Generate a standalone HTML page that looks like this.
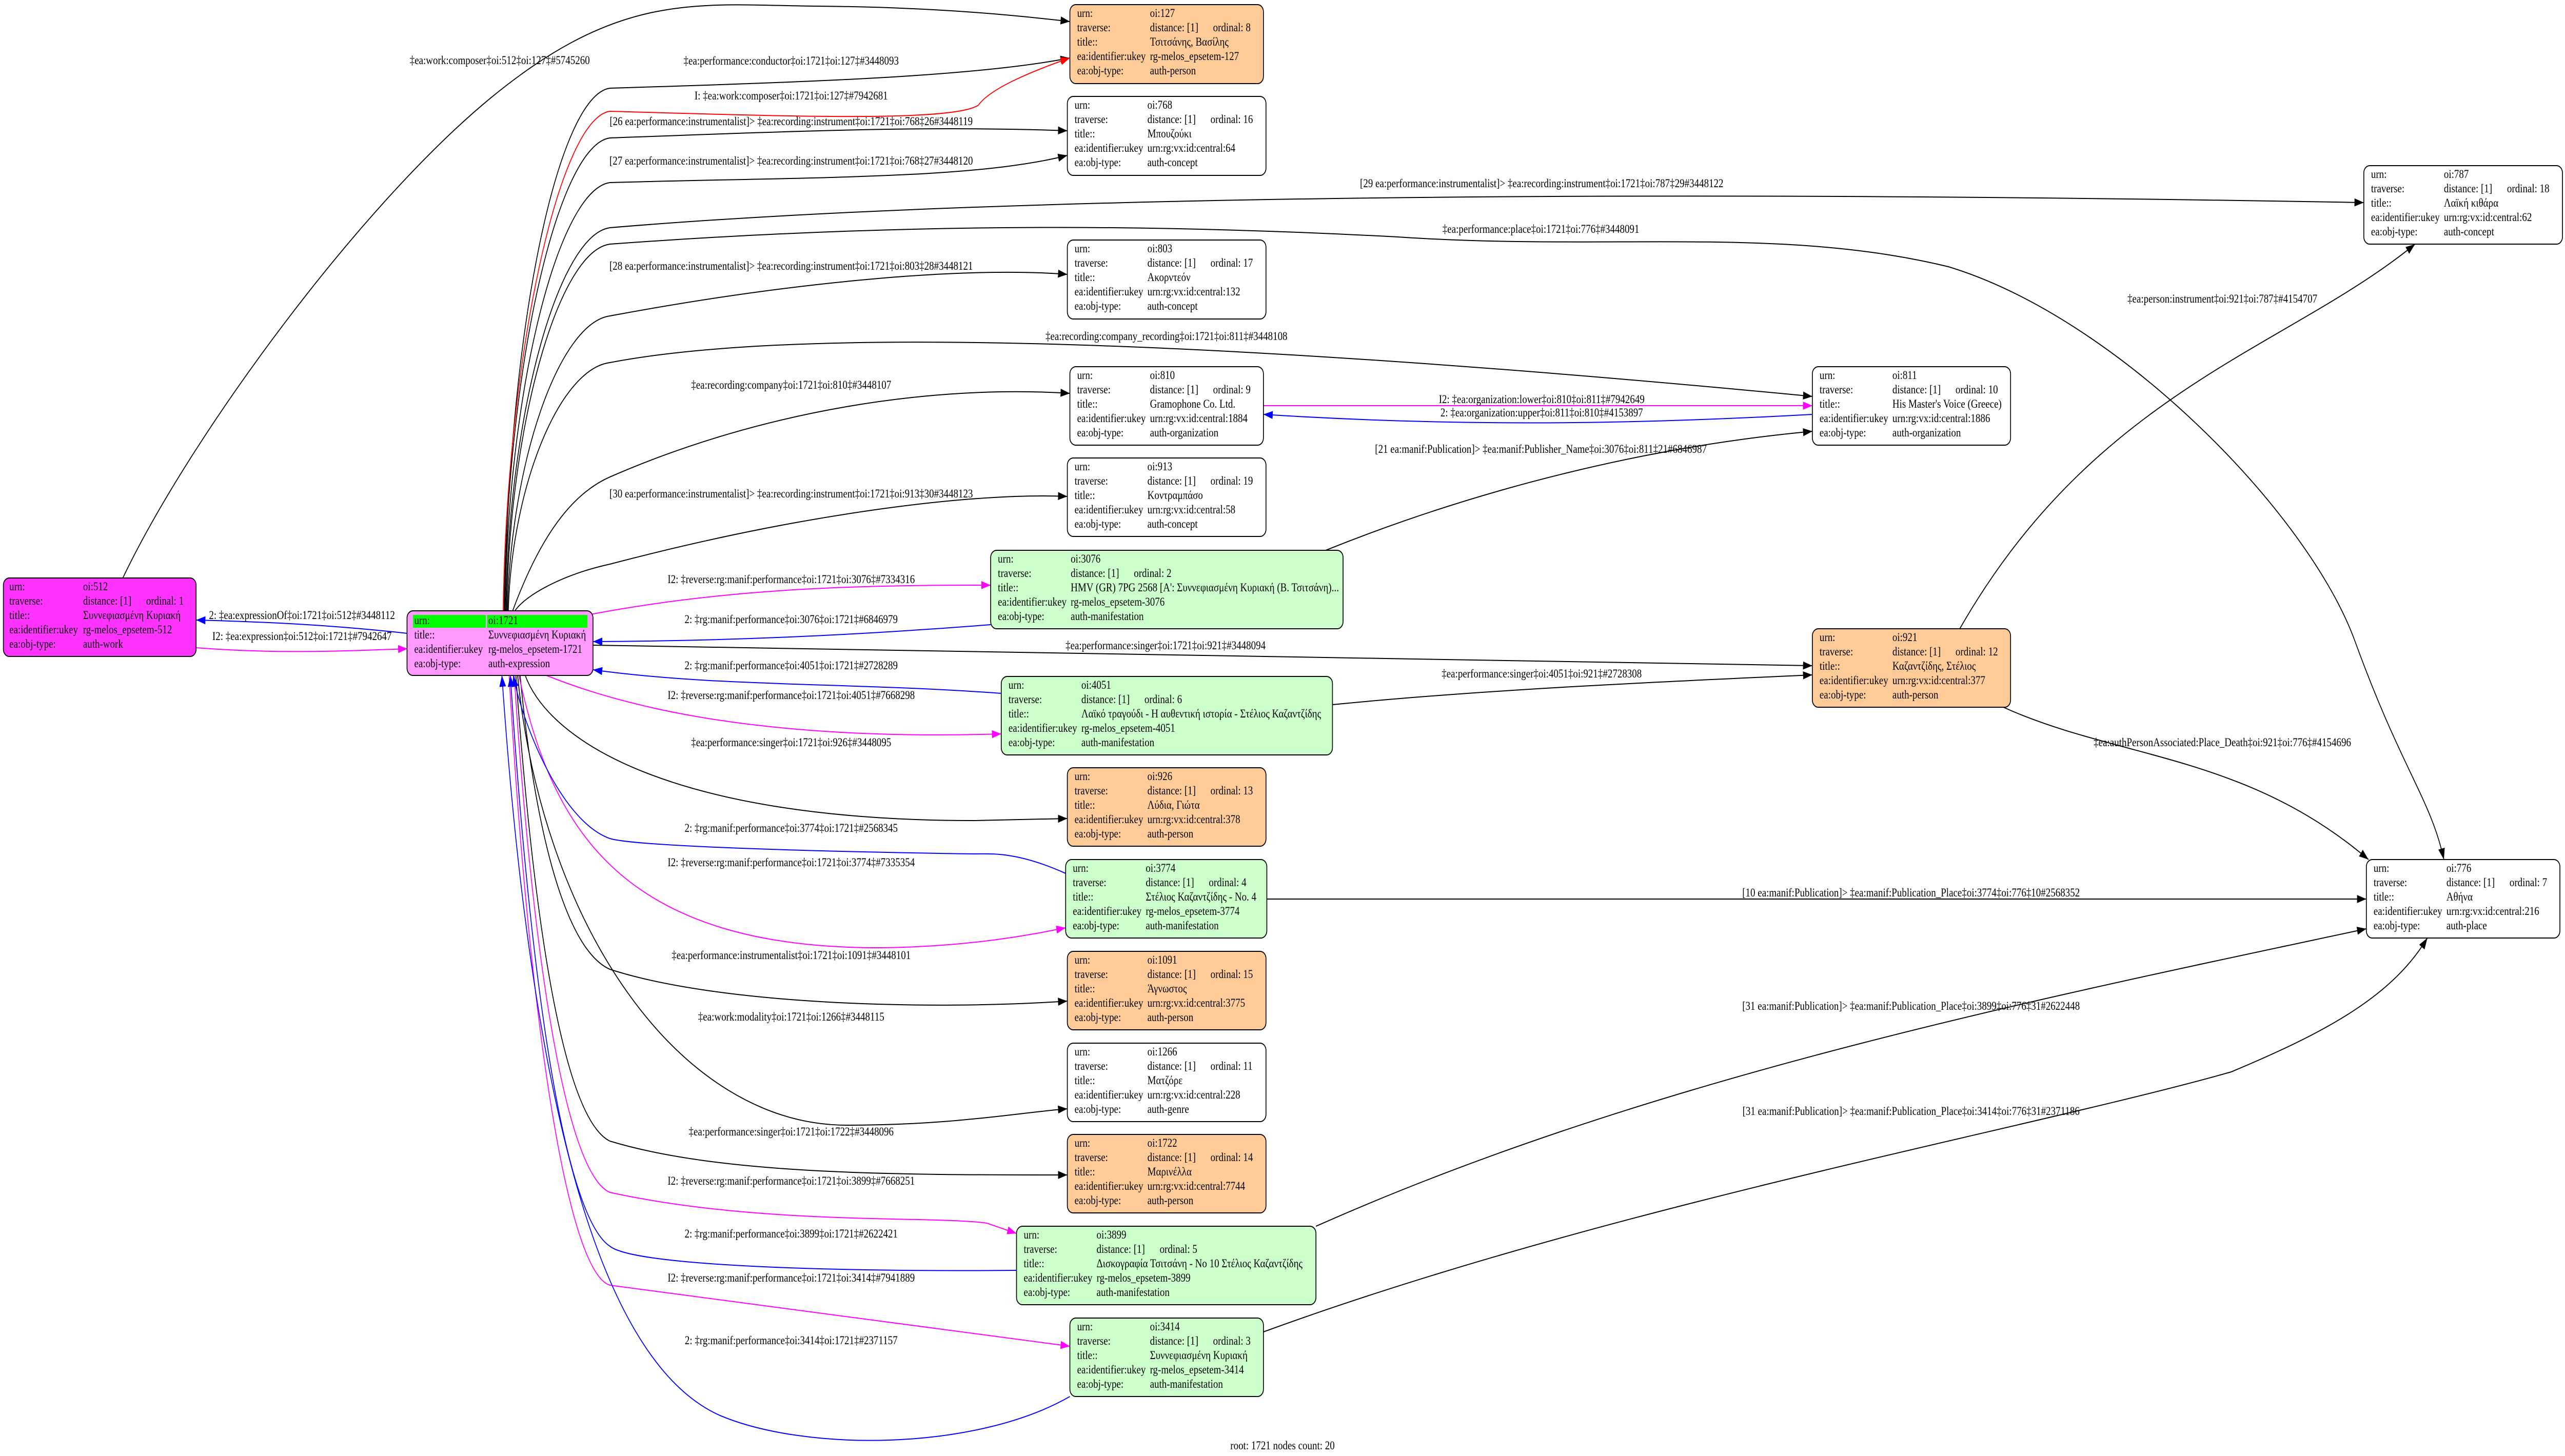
<!DOCTYPE html>
<html><head><meta charset="utf-8"><style>
html,body{margin:0;padding:0;background:#fff;width:100%;height:100%;overflow:hidden;}
svg{display:block;width:100vw;height:100vh;}
text{font-family:"Liberation Serif","Noto Serif CJK SC",serif;font-size:23px;fill:#000;}
.l{text-anchor:middle;}
</style></head><body>
<svg viewBox="0 0 6056 2839" preserveAspectRatio="none" xmlns="http://www.w3.org/2000/svg">
<defs>
<marker id="ak" viewBox="0 0 14 10" refX="14" refY="5" markerWidth="22" markerHeight="16" markerUnits="userSpaceOnUse" orient="auto"><path d="M0,0L14,5L0,10z" fill="#000"/></marker>
<marker id="ar" viewBox="0 0 14 10" refX="14" refY="5" markerWidth="22" markerHeight="16" markerUnits="userSpaceOnUse" orient="auto"><path d="M0,0L14,5L0,10z" fill="#f00"/></marker>
<marker id="ab" viewBox="0 0 14 10" refX="14" refY="5" markerWidth="22" markerHeight="16" markerUnits="userSpaceOnUse" orient="auto"><path d="M0,0L14,5L0,10z" fill="#00f"/></marker>
<marker id="am" viewBox="0 0 14 10" refX="14" refY="5" markerWidth="22" markerHeight="16" markerUnits="userSpaceOnUse" orient="auto"><path d="M0,0L14,5L0,10z" fill="#f0f"/></marker>
</defs>
<g fill="none" stroke-width="2">
<g stroke="#000" marker-end="url(#ak)">
<path d="M290,1127 C450,850 850,400 1160,190 S1650,10 1930,12 S2400,30 2526,42"/>
<path d="M1192,1192 C1200,630 1320,185 1440,172 C1900,160 2300,150 2526,113"/>
<path d="M1190,1192 C1198,700 1320,282 1440,269 C1900,255 2200,245 2520,255"/>
<path d="M1192,1192 C1200,750 1320,370 1440,356 C1900,345 2300,350 2520,303"/>
<path d="M1194,1192 C1202,800 1320,458 1440,444 C2000,405 3200,360 5581,395"/>
<path d="M1196,1192 C1204,820 1320,490 1440,476 C2200,430 2800,440 3300,462 C3800,490 4200,440 4600,520 C5000,620 5450,1000 5560,1250 S5740,1560 5770,1676"/>
<path d="M1198,1192 C1206,900 1320,630 1440,616 C1900,545 2300,520 2520,535"/>
<path d="M1200,1192 C1208,950 1320,720 1440,707 C1800,650 2600,640 4279,773"/>
<path d="M1210,1192 C1260,1080 1330,970 1440,930 C1800,800 2200,750 2526,767"/>
<path d="M1215,1192 C1240,1160 1330,1120 1440,1100 C1900,1000 2300,960 2520,968"/>
<path d="M1400,1258 C2500,1275 3500,1285 4279,1298"/>
<path d="M3130,1073 C3500,950 3900,870 4279,841"/>
<path d="M3146,1374 C3500,1345 3900,1330 4279,1316"/>
<path d="M4627,1226 C4950,760 5400,680 5702,476"/>
<path d="M4730,1379 C5000,1480 5300,1470 5592,1676"/>
<path d="M2991,1753 L5587,1753"/>
<path d="M3107,2391 C3900,2100 4800,1950 5587,1811"/>
<path d="M2983,2597 C3800,2350 4800,2200 5268,2090 C5500,2010 5650,1940 5731,1829"/>
<path d="M1240,1317 C1300,1450 1600,1600 2300,1600 L2520,1596"/>
<path d="M1228,1317 C1260,1600 1330,1850 1440,1890 C1700,1960 2200,1970 2520,1952"/>
<path d="M1222,1317 C1280,1800 1600,2194 2000,2194 C2250,2194 2400,2170 2520,2162"/>
<path d="M1218,1317 C1260,1800 1330,2180 1440,2225 C1700,2290 2100,2291 2520,2291"/>
</g>
<path stroke="#f00" marker-end="url(#ar)" d="M1188,1192 C1196,700 1320,230 1440,217 C1800,225 2250,240 2310,205 C2340,170 2450,135 2526,113"/>
<g stroke="#f0f" marker-end="url(#am)">
<path d="M463,1263 C650,1275 800,1270 962,1265"/>
<path d="M1394,1198 C1700,1150 2000,1140 2339,1141"/>
<path d="M1290,1317 C1600,1420 2000,1440 2364,1431"/>
<path d="M2983,791 L4279,791"/>
<path d="M1225,1317 C1300,1600 1450,1850 2080,1848 C2300,1846 2450,1820 2516,1809"/>
<path d="M1214,1317 C1260,1900 1340,2290 1440,2325 C1800,2390 2200,2370 2330,2385 L2400,2405"/>
<path d="M1202,1317 C1250,2000 1340,2480 1440,2506 L2526,2625"/>
</g>
<g stroke="#00f" marker-end="url(#ab)">
<path d="M962,1235 C800,1220 650,1213 463,1209"/>
<path d="M2339,1218 C2000,1240 1700,1250 1400,1251"/>
<path d="M2364,1352 C2000,1330 1700,1340 1400,1306"/>
<path d="M4279,808 C3800,830 3400,830 2983,808"/>
<path d="M2516,1703 C2400,1660 2340,1665 2300,1665 C1900,1660 1500,1650 1440,1635 C1320,1600 1230,1400 1212,1317"/>
<path d="M2400,2477 C2000,2480 1500,2470 1440,2430 C1330,2370 1250,1900 1205,1317"/>
<path d="M2526,2723 C2300,2830 1900,2830 1700,2760 C1400,2650 1250,2100 1185,1317"/>
</g>
</g>
<g>
<text class="l" x="1180" y="125">‡ea:work:composer‡oi:512‡oi:127‡#5745260</text>
<text class="l" x="1868" y="126">‡ea:performance:conductor‡oi:1721‡oi:127‡#3448093</text>
<text class="l" x="1868" y="194">I: ‡ea:work:composer‡oi:1721‡oi:127‡#7942681</text>
<text class="l" x="1868" y="244">[26 ea:performance:instrumentalist]&gt; ‡ea:recording:instrument‡oi:1721‡oi:768‡26#3448119</text>
<text class="l" x="1868" y="321">[27 ea:performance:instrumentalist]&gt; ‡ea:recording:instrument‡oi:1721‡oi:768‡27#3448120</text>
<text class="l" x="3640" y="365">[29 ea:performance:instrumentalist]&gt; ‡ea:recording:instrument‡oi:1721‡oi:787‡29#3448122</text>
<text class="l" x="3638" y="454">‡ea:performance:place‡oi:1721‡oi:776‡#3448091</text>
<text class="l" x="1868" y="526">[28 ea:performance:instrumentalist]&gt; ‡ea:recording:instrument‡oi:1721‡oi:803‡28#3448121</text>
<text class="l" x="2754" y="663">‡ea:recording:company_recording‡oi:1721‡oi:811‡#3448108</text>
<text class="l" x="1868" y="758">‡ea:recording:company‡oi:1721‡oi:810‡#3448107</text>
<text class="l" x="3640" y="786">I2: ‡ea:organization:lower‡oi:810‡oi:811‡#7942649</text>
<text class="l" x="3640" y="812">2: ‡ea:organization:upper‡oi:811‡oi:810‡#4153897</text>
<text class="l" x="3638" y="883">[21 ea:manif:Publication]&gt; ‡ea:manif:Publisher_Name‡oi:3076‡oi:811‡21#6846987</text>
<text class="l" x="1868" y="970">[30 ea:performance:instrumentalist]&gt; ‡ea:recording:instrument‡oi:1721‡oi:913‡30#3448123</text>
<text class="l" x="5247" y="590">‡ea:person:instrument‡oi:921‡oi:787‡#4154707</text>
<text class="l" x="1868" y="1137">I2: ‡reverse:rg:manif:performance‡oi:1721‡oi:3076‡#7334316</text>
<text class="l" x="713" y="1207">2: ‡ea:expressionOf‡oi:1721‡oi:512‡#3448112</text>
<text class="l" x="713" y="1248">I2: ‡ea:expression‡oi:512‡oi:1721‡#7942647</text>
<text class="l" x="1868" y="1215">2: ‡rg:manif:performance‡oi:3076‡oi:1721‡#6846979</text>
<text class="l" x="2752" y="1266">‡ea:performance:singer‡oi:1721‡oi:921‡#3448094</text>
<text class="l" x="1868" y="1305">2: ‡rg:manif:performance‡oi:4051‡oi:1721‡#2728289</text>
<text class="l" x="3640" y="1321">‡ea:performance:singer‡oi:4051‡oi:921‡#2728308</text>
<text class="l" x="1868" y="1363">I2: ‡reverse:rg:manif:performance‡oi:1721‡oi:4051‡#7668298</text>
<text class="l" x="1868" y="1455">‡ea:performance:singer‡oi:1721‡oi:926‡#3448095</text>
<text class="l" x="5247" y="1455">‡ea:authPersonAssociated:Place_Death‡oi:921‡oi:776‡#4154696</text>
<text class="l" x="1868" y="1622">2: ‡rg:manif:performance‡oi:3774‡oi:1721‡#2568345</text>
<text class="l" x="1868" y="1689">I2: ‡reverse:rg:manif:performance‡oi:1721‡oi:3774‡#7335354</text>
<text class="l" x="4512" y="1748">[10 ea:manif:Publication]&gt; ‡ea:manif:Publication_Place‡oi:3774‡oi:776‡10#2568352</text>
<text class="l" x="1868" y="1870">‡ea:performance:instrumentalist‡oi:1721‡oi:1091‡#3448101</text>
<text class="l" x="4512" y="1969">[31 ea:manif:Publication]&gt; ‡ea:manif:Publication_Place‡oi:3899‡oi:776‡31#2622448</text>
<text class="l" x="1868" y="1990">‡ea:work:modality‡oi:1721‡oi:1266‡#3448115</text>
<text class="l" x="4512" y="2174">[31 ea:manif:Publication]&gt; ‡ea:manif:Publication_Place‡oi:3414‡oi:776‡31#2371186</text>
<text class="l" x="1868" y="2214">‡ea:performance:singer‡oi:1721‡oi:1722‡#3448096</text>
<text class="l" x="1868" y="2310">I2: ‡reverse:rg:manif:performance‡oi:1721‡oi:3899‡#7668251</text>
<text class="l" x="1868" y="2413">2: ‡rg:manif:performance‡oi:3899‡oi:1721‡#2622421</text>
<text class="l" x="1868" y="2499">I2: ‡reverse:rg:manif:performance‡oi:1721‡oi:3414‡#7941889</text>
<text class="l" x="1868" y="2621">2: ‡rg:manif:performance‡oi:3414‡oi:1721‡#2371157</text>
<text class="l" x="3028" y="2826">root: 1721 nodes count: 20</text>
</g>

<g stroke="#000" stroke-width="2">
<rect x="2526" y="9" width="457" height="154" rx="14" fill="#ffcc99"/>
<rect x="2520" y="188" width="469" height="154" rx="14" fill="#fff"/>
<rect x="2520" y="468" width="469" height="154" rx="14" fill="#fff"/>
<rect x="2526" y="715" width="457" height="153" rx="14" fill="#fff"/>
<rect x="2520" y="893" width="469" height="153" rx="14" fill="#fff"/>
<rect x="2339" y="1073" width="832" height="153" rx="14" fill="#ccffcc"/>
<rect x="2364" y="1319" width="782" height="153" rx="14" fill="#ccffcc"/>
<rect x="2520" y="1497" width="469" height="153" rx="14" fill="#ffcc99"/>
<rect x="2516" y="1676" width="475" height="153" rx="14" fill="#ccffcc"/>
<rect x="2520" y="1855" width="469" height="153" rx="14" fill="#ffcc99"/>
<rect x="2520" y="2034" width="469" height="153" rx="14" fill="#fff"/>
<rect x="2520" y="2212" width="469" height="153" rx="14" fill="#ffcc99"/>
<rect x="2400" y="2391" width="707" height="153" rx="14" fill="#ccffcc"/>
<rect x="2526" y="2570" width="457" height="153" rx="14" fill="#ccffcc"/>
<rect x="8" y="1127" width="455" height="153" rx="14" fill="#ff33ff"/>
<rect x="961" y="1191" width="439" height="126" rx="14" fill="#ff99ff"/>
<rect x="4279" y="715" width="468" height="153" rx="14" fill="#fff"/>
<rect x="4279" y="1226" width="468" height="153" rx="14" fill="#ffcc99"/>
<rect x="5581" y="323" width="469" height="153" rx="14" fill="#fff"/>
<rect x="5587" y="1676" width="457" height="153" rx="14" fill="#fff"/>
</g>
<rect x="975" y="1199" width="172" height="25" fill="#00ff00"/>
<rect x="1150" y="1199" width="237" height="25" fill="#00ff00"/>

<g>
<text x="2543" y="33">urn:</text><text x="2715" y="33">oi:127</text>
<text x="2543" y="61">traverse:</text><text x="2715" y="61">distance: [1]<tspan x="2864">ordinal: 8</tspan></text>
<text x="2543" y="89">title::</text><text x="2715" y="89">Τσιτσάνης, Βασίλης</text>
<text x="2543" y="117">ea:identifier:ukey</text><text x="2715" y="117">rg-melos_epsetem-127</text>
<text x="2543" y="145">ea:obj-type:</text><text x="2715" y="145">auth-person</text>

<text x="2537" y="212">urn:</text><text x="2709" y="212">oi:768</text>
<text x="2537" y="240">traverse:</text><text x="2709" y="240">distance: [1]<tspan x="2858">ordinal: 16</tspan></text>
<text x="2537" y="268">title::</text><text x="2709" y="268">Μπουζούκι</text>
<text x="2537" y="296">ea:identifier:ukey</text><text x="2709" y="296">urn:rg:vx:id:central:64</text>
<text x="2537" y="324">ea:obj-type:</text><text x="2709" y="324">auth-concept</text>

<text x="2537" y="492">urn:</text><text x="2709" y="492">oi:803</text>
<text x="2537" y="520">traverse:</text><text x="2709" y="520">distance: [1]<tspan x="2858">ordinal: 17</tspan></text>
<text x="2537" y="548">title::</text><text x="2709" y="548">Ακορντεόν</text>
<text x="2537" y="576">ea:identifier:ukey</text><text x="2709" y="576">urn:rg:vx:id:central:132</text>
<text x="2537" y="604">ea:obj-type:</text><text x="2709" y="604">auth-concept</text>

<text x="2543" y="739">urn:</text><text x="2715" y="739">oi:810</text>
<text x="2543" y="767">traverse:</text><text x="2715" y="767">distance: [1]<tspan x="2864">ordinal: 9</tspan></text>
<text x="2543" y="795">title::</text><text x="2715" y="795">Gramophone Co. Ltd.</text>
<text x="2543" y="823">ea:identifier:ukey</text><text x="2715" y="823">urn:rg:vx:id:central:1884</text>
<text x="2543" y="851">ea:obj-type:</text><text x="2715" y="851">auth-organization</text>

<text x="2537" y="917">urn:</text><text x="2709" y="917">oi:913</text>
<text x="2537" y="945">traverse:</text><text x="2709" y="945">distance: [1]<tspan x="2858">ordinal: 19</tspan></text>
<text x="2537" y="973">title::</text><text x="2709" y="973">Κοντραμπάσο</text>
<text x="2537" y="1001">ea:identifier:ukey</text><text x="2709" y="1001">urn:rg:vx:id:central:58</text>
<text x="2537" y="1029">ea:obj-type:</text><text x="2709" y="1029">auth-concept</text>

<text x="2356" y="1097">urn:</text><text x="2528" y="1097">oi:3076</text>
<text x="2356" y="1125">traverse:</text><text x="2528" y="1125">distance: [1]<tspan x="2677">ordinal: 2</tspan></text>
<text x="2356" y="1153">title::</text><text x="2528" y="1153">HMV (GR) 7PG 2568 [A': Συννεφιασμένη Κυριακή (Β. Τσιτσάνη)...</text>
<text x="2356" y="1181">ea:identifier:ukey</text><text x="2528" y="1181">rg-melos_epsetem-3076</text>
<text x="2356" y="1209">ea:obj-type:</text><text x="2528" y="1209">auth-manifestation</text>

<text x="2381" y="1343">urn:</text><text x="2553" y="1343">oi:4051</text>
<text x="2381" y="1371">traverse:</text><text x="2553" y="1371">distance: [1]<tspan x="2702">ordinal: 6</tspan></text>
<text x="2381" y="1399">title::</text><text x="2553" y="1399">Λαϊκό τραγούδι - Η αυθεντική ιστορία - Στέλιος Καζαντζίδης</text>
<text x="2381" y="1427">ea:identifier:ukey</text><text x="2553" y="1427">rg-melos_epsetem-4051</text>
<text x="2381" y="1455">ea:obj-type:</text><text x="2553" y="1455">auth-manifestation</text>

<text x="2537" y="1521">urn:</text><text x="2709" y="1521">oi:926</text>
<text x="2537" y="1549">traverse:</text><text x="2709" y="1549">distance: [1]<tspan x="2858">ordinal: 13</tspan></text>
<text x="2537" y="1577">title::</text><text x="2709" y="1577">Λύδια, Γιώτα</text>
<text x="2537" y="1605">ea:identifier:ukey</text><text x="2709" y="1605">urn:rg:vx:id:central:378</text>
<text x="2537" y="1633">ea:obj-type:</text><text x="2709" y="1633">auth-person</text>

<text x="2533" y="1700">urn:</text><text x="2705" y="1700">oi:3774</text>
<text x="2533" y="1728">traverse:</text><text x="2705" y="1728">distance: [1]<tspan x="2854">ordinal: 4</tspan></text>
<text x="2533" y="1756">title::</text><text x="2705" y="1756">Στέλιος Καζαντζίδης - No. 4</text>
<text x="2533" y="1784">ea:identifier:ukey</text><text x="2705" y="1784">rg-melos_epsetem-3774</text>
<text x="2533" y="1812">ea:obj-type:</text><text x="2705" y="1812">auth-manifestation</text>

<text x="2537" y="1879">urn:</text><text x="2709" y="1879">oi:1091</text>
<text x="2537" y="1907">traverse:</text><text x="2709" y="1907">distance: [1]<tspan x="2858">ordinal: 15</tspan></text>
<text x="2537" y="1935">title::</text><text x="2709" y="1935">Άγνωστος</text>
<text x="2537" y="1963">ea:identifier:ukey</text><text x="2709" y="1963">urn:rg:vx:id:central:3775</text>
<text x="2537" y="1991">ea:obj-type:</text><text x="2709" y="1991">auth-person</text>

<text x="2537" y="2058">urn:</text><text x="2709" y="2058">oi:1266</text>
<text x="2537" y="2086">traverse:</text><text x="2709" y="2086">distance: [1]<tspan x="2858">ordinal: 11</tspan></text>
<text x="2537" y="2114">title::</text><text x="2709" y="2114">Ματζόρε</text>
<text x="2537" y="2142">ea:identifier:ukey</text><text x="2709" y="2142">urn:rg:vx:id:central:228</text>
<text x="2537" y="2170">ea:obj-type:</text><text x="2709" y="2170">auth-genre</text>

<text x="2537" y="2236">urn:</text><text x="2709" y="2236">oi:1722</text>
<text x="2537" y="2264">traverse:</text><text x="2709" y="2264">distance: [1]<tspan x="2858">ordinal: 14</tspan></text>
<text x="2537" y="2292">title::</text><text x="2709" y="2292">Μαρινέλλα</text>
<text x="2537" y="2320">ea:identifier:ukey</text><text x="2709" y="2320">urn:rg:vx:id:central:7744</text>
<text x="2537" y="2348">ea:obj-type:</text><text x="2709" y="2348">auth-person</text>

<text x="2417" y="2415">urn:</text><text x="2589" y="2415">oi:3899</text>
<text x="2417" y="2443">traverse:</text><text x="2589" y="2443">distance: [1]<tspan x="2738">ordinal: 5</tspan></text>
<text x="2417" y="2471">title::</text><text x="2589" y="2471">Δισκογραφία Τσιτσάνη - No 10 Στέλιος Καζαντζίδης</text>
<text x="2417" y="2499">ea:identifier:ukey</text><text x="2589" y="2499">rg-melos_epsetem-3899</text>
<text x="2417" y="2527">ea:obj-type:</text><text x="2589" y="2527">auth-manifestation</text>

<text x="2543" y="2594">urn:</text><text x="2715" y="2594">oi:3414</text>
<text x="2543" y="2622">traverse:</text><text x="2715" y="2622">distance: [1]<tspan x="2864">ordinal: 3</tspan></text>
<text x="2543" y="2650">title::</text><text x="2715" y="2650">Συννεφιασμένη Κυριακή</text>
<text x="2543" y="2678">ea:identifier:ukey</text><text x="2715" y="2678">rg-melos_epsetem-3414</text>
<text x="2543" y="2706">ea:obj-type:</text><text x="2715" y="2706">auth-manifestation</text>

<text x="22" y="1151">urn:</text><text x="196" y="1151">oi:512</text>
<text x="22" y="1179">traverse:</text><text x="196" y="1179">distance: [1]<tspan x="345">ordinal: 1</tspan></text>
<text x="22" y="1207">title::</text><text x="196" y="1207">Συννεφιασμένη Κυριακή</text>
<text x="22" y="1235">ea:identifier:ukey</text><text x="196" y="1235">rg-melos_epsetem-512</text>
<text x="22" y="1263">ea:obj-type:</text><text x="196" y="1263">auth-work</text>

<text x="978" y="1217">urn:</text><text x="1153" y="1217">oi:1721</text>
<text x="978" y="1245">title::</text><text x="1153" y="1245">Συννεφιασμένη Κυριακή</text>
<text x="978" y="1273">ea:identifier:ukey</text><text x="1153" y="1273">rg-melos_epsetem-1721</text>
<text x="978" y="1301">ea:obj-type:</text><text x="1153" y="1301">auth-expression</text>

<text x="4296" y="739">urn:</text><text x="4468" y="739">oi:811</text>
<text x="4296" y="767">traverse:</text><text x="4468" y="767">distance: [1]<tspan x="4617">ordinal: 10</tspan></text>
<text x="4296" y="795">title::</text><text x="4468" y="795">His Master's Voice (Greece)</text>
<text x="4296" y="823">ea:identifier:ukey</text><text x="4468" y="823">urn:rg:vx:id:central:1886</text>
<text x="4296" y="851">ea:obj-type:</text><text x="4468" y="851">auth-organization</text>

<text x="4296" y="1250">urn:</text><text x="4468" y="1250">oi:921</text>
<text x="4296" y="1278">traverse:</text><text x="4468" y="1278">distance: [1]<tspan x="4617">ordinal: 12</tspan></text>
<text x="4296" y="1306">title::</text><text x="4468" y="1306">Καζαντζίδης, Στέλιος</text>
<text x="4296" y="1334">ea:identifier:ukey</text><text x="4468" y="1334">urn:rg:vx:id:central:377</text>
<text x="4296" y="1362">ea:obj-type:</text><text x="4468" y="1362">auth-person</text>

<text x="5598" y="347">urn:</text><text x="5770" y="347">oi:787</text>
<text x="5598" y="375">traverse:</text><text x="5770" y="375">distance: [1]<tspan x="5919">ordinal: 18</tspan></text>
<text x="5598" y="403">title::</text><text x="5770" y="403">Λαϊκή κιθάρα</text>
<text x="5598" y="431">ea:identifier:ukey</text><text x="5770" y="431">urn:rg:vx:id:central:62</text>
<text x="5598" y="459">ea:obj-type:</text><text x="5770" y="459">auth-concept</text>

<text x="5604" y="1700">urn:</text><text x="5776" y="1700">oi:776</text>
<text x="5604" y="1728">traverse:</text><text x="5776" y="1728">distance: [1]<tspan x="5925">ordinal: 7</tspan></text>
<text x="5604" y="1756">title::</text><text x="5776" y="1756">Αθήνα</text>
<text x="5604" y="1784">ea:identifier:ukey</text><text x="5776" y="1784">urn:rg:vx:id:central:216</text>
<text x="5604" y="1812">ea:obj-type:</text><text x="5776" y="1812">auth-place</text>
</g>
</svg>
</body></html>
